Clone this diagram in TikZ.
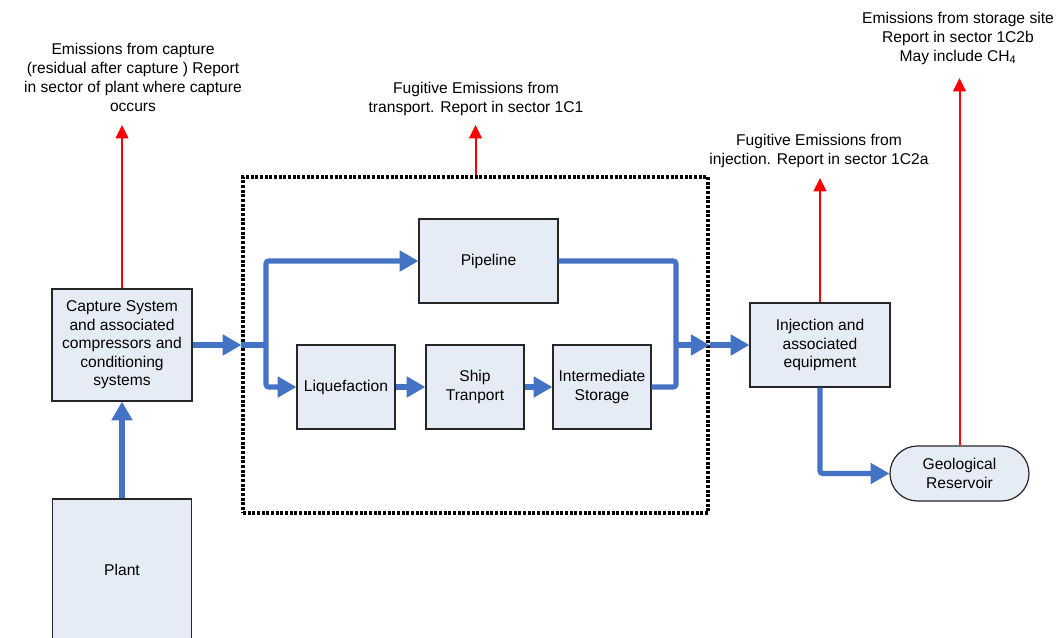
\documentclass[tikz,border=0pt]{standalone}
\usepackage{fontspec}
\setmainfont{Liberation Sans}
\usetikzlibrary{arrows.meta}
\definecolor{flow}{RGB}{68,114,196}
\definecolor{boxfill}{RGB}{230,236,246}
\begin{document}
\begin{tikzpicture}[x=0.75pt,y=-0.75pt,
 box/.style={draw=black!85,line width=0.9pt,fill=boxfill,align=center,inner sep=0pt,font=\fontsize{11.7}{13.9}\selectfont},
 flowline/.style={draw=flow,line width=3.8pt,rounded corners=2pt},
 flowarrow/.style={flowline,-{Triangle[length=14pt,width=15pt]}},
 emit/.style={draw=red,line width=1.5pt,-{Triangle[length=10pt,width=9.5pt]}},
 note/.style={align=center,font=\fontsize{11.7}{14.25}\selectfont,inner sep=0pt},
 tgroup/.style={draw=black,line width=2.4pt,dash pattern=on 2.2pt off 1.3pt,inner sep=0pt},
]
\clip (0,0) rectangle (1058,637);
\fill[white] (0,0) rectangle (1058,637);

% transport group
\node[tgroup,minimum width=348.75pt,minimum height=252pt] (tbox) at (475.5,345) {};

% boxes
\node[box,minimum width=105pt,minimum height=84pt] (capture) at (122,345) {Capture System\\and associated\\compressors and\\conditioning\\systems};
\node[box,minimum width=104.25pt,minimum height=105.75pt] (plant) at (122,569.5) {Plant};
\node[box,minimum width=104.25pt,minimum height=63pt] (pipe) at (488.5,261) {Pipeline};
\node[box,minimum width=73.5pt,minimum height=63pt] (liq) at (346,387) {Liquefaction};
\node[box,minimum width=73.5pt,minimum height=63pt] (ship) at (475,387) {Ship\\Tranport};
\node[box,minimum width=73.5pt,minimum height=63pt] (inter) at (602,387) {Intermediate\\Storage};
\node[box,minimum width=105pt,minimum height=63pt] (inj) at (820,345) {Injection and\\associated\\equipment};
\node[box,minimum width=104.25pt,minimum height=41.25pt,rounded corners=20.6pt] (res) at (959.5,473.5) {Geological\\Reservoir};

% notes
\node[note] (n1) at (133,77) {Emissions from capture\\(residual after capture ) Report\\in sector of plant where capture\\occurs};
\node[note] (n2) at (476,99) {Fugitive Emissions from\\transport. Report in sector 1C1};
\node[note] (n3) at (819,151) {Fugitive Emissions from\\injection. Report in sector 1C2a};
\node[note] (n4) at (958,38) {Emissions from storage site\\Report in sector 1C2b\\May include CH\textsubscript{4}};

\coordinate (t1) at (122,125);
\coordinate (t2) at (475.5,125);
\coordinate (t3) at (820,178);
\coordinate (t4) at (959.5,78);
\coordinate (jl) at (266,345);
\coordinate (jr) at (676,345);

% flows
\draw[flowarrow] (plant.north) -- (capture.south);
\draw[flowarrow] (capture.east) -- (tbox.west);
\draw[flowline] (tbox.west) -- (jl);
\draw[flowarrow] (jl) |- (pipe.west);
\draw[flowarrow] (jl) |- (liq.west);
\draw[flowarrow] (liq.east) -- (ship.west);
\draw[flowarrow] (ship.east) -- (inter.west);
\draw[flowline] (pipe.east) -| (jr);
\draw[flowline] (inter.east) -| (jr);
\draw[flowarrow] (jr) -- (tbox.east);
\draw[flowarrow] (tbox.east) -- (inj.west);
\draw[flowarrow] (inj.south) |- (res.west);

% emissions
\draw[emit] (capture.north) -- (t1);
\draw[emit] (tbox.north) -- (t2);
\draw[emit] (inj.north) -- (t3);
\draw[emit] (res.north) -- (t4);
\end{tikzpicture}
\end{document}
